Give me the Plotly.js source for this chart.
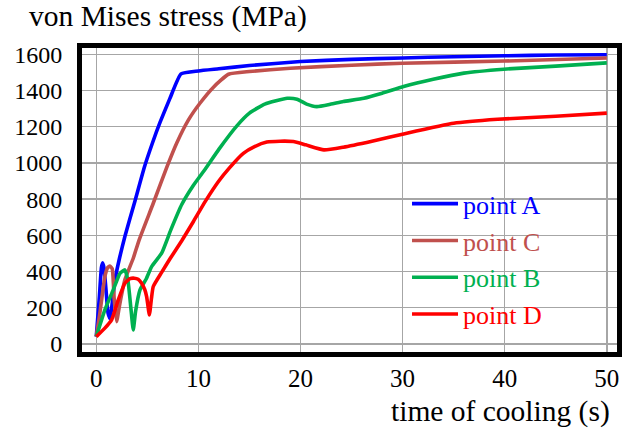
<!DOCTYPE html>
<html>
<head>
<meta charset="utf-8">
<script src="https://cdn.plot.ly/plotly-3.0.1.min.js"></script>
<style>html,body{margin:0;padding:0;background:#fff;}#chart{width:622px;height:430px;}</style>
</head>
<body>
<div id="chart"></div>
<script>
// time of cooling (s) and von Mises stress (MPa)
const tA = [0, 0.3, 0.5, 0.62, 0.75, 0.95, 1.15, 1.35, 1.55, 1.83, 2.3, 2.8, 3.79, 4.7, 5.5, 6.25, 7.2, 8.3, 10, 12, 15, 20, 25, 30, 35, 40, 45, 50];
const vA = [40, 260, 420, 448, 420, 300, 170, 140, 220, 354, 480, 593, 790, 975, 1110, 1225, 1355, 1492, 1508, 1520, 1538, 1560, 1572, 1580, 1587, 1592, 1596, 1598];

const tC = [0, 0.35, 0.84, 1.1, 1.33, 1.56, 1.75, 1.99, 2.3, 2.8, 3.62, 4.2, 5.58, 6.9, 7.88, 9, 10.17, 11.5, 12.95, 15, 19, 25, 30, 40, 50];
const vC = [40, 170, 372, 420, 430, 415, 250, 123, 220, 354, 473, 575, 777, 975, 1110, 1235, 1331, 1420, 1490, 1505, 1523, 1540, 1551, 1563, 1580];

const tB = [0, 0.84, 1.66, 2.32, 2.8, 3.1, 3.4, 3.62, 3.85, 4.28, 4.9, 5.42, 6.4, 7.3, 8.37, 9.5, 10.66, 12, 13.77, 15, 16.5, 18.7, 19.66, 20.6, 21.6, 23, 24.2, 26.2, 28, 30.1, 33, 36, 39.9, 45, 50];
const vB = [40, 188, 298, 390, 409, 350, 190, 77, 180, 298, 360, 427, 501, 630, 770, 875, 965, 1075, 1205, 1275, 1325, 1357, 1352, 1325, 1311, 1325, 1339, 1357, 1385, 1422, 1462, 1496, 1518, 1535, 1553];

const tD = [0, 0.84, 1.5, 2.15, 2.8, 3.3, 3.72, 4.1, 4.44, 4.75, 4.93, 5.2, 5.4, 5.58, 6.4, 7.22, 8.37, 9.5, 10.66, 12, 13, 14.4, 15.5, 16.7, 18, 19.3, 20.5, 22.3, 24.2, 27, 30.1, 35, 39.3, 45, 50];
const vD = [40, 87, 133, 243, 335, 360, 363, 357, 335, 300, 261, 160, 250, 317, 395, 470, 570, 675, 786, 900, 970, 1053, 1090, 1115, 1120, 1118, 1100, 1072, 1087, 1120, 1160, 1219, 1241, 1258, 1275];

const seriesNames = ['point A', 'point C', 'point B', 'point D'];
const seriesColors = ['#0000FF', '#C0504D', '#00B050', '#FF0000'];
const xTicks = [0, 10, 20, 30, 40, 50];
const yTicks = [0, 200, 400, 600, 800, 1000, 1200, 1400, 1600];

const xs = [tA, tC, tB, tD];
const ys = [vA, vC, vB, vD];

const traces = xs.map((x, i) => ({
  x: x, y: ys[i], type: 'scatter', mode: 'lines',
  name: '<span style="color:' + seriesColors[i] + '">' + seriesNames[i] + '</span>',
  line: {color: seriesColors[i], width: 3.6, shape: 'spline', smoothing: 0.45}
}));

const ff = 'Liberation Serif';
const layout = {
  width: 622, height: 430,
  margin: {l: 82, r: 5, t: 48, b: 78},
  paper_bgcolor: '#ffffff', plot_bgcolor: '#ffffff',
  font: {family: ff, size: 24, color: '#000'},
  showlegend: true,
  legend: {x: 0.6075, y: 0.565, xanchor: 'left', yanchor: 'top', bgcolor: 'rgba(0,0,0,0)',
           font: {family: ff, size: 26}, itemwidth: 46, tracegroupgap: 0},
  xaxis: {range: [-1.4, 51], tickvals: xTicks, ticktext: xTicks.map(String),
          showgrid: true, gridcolor: '#A6A6A6', gridwidth: 1.5, zeroline: false,
          showline: true, mirror: true, linecolor: '#000', linewidth: 5, ticks: '',
          tickfont: {family: ff, size: 25, color: '#000'}},
  yaxis: {range: [-45, 1635], tickvals: yTicks, ticktext: yTicks.map(String),
          showgrid: true, gridcolor: '#A6A6A6', gridwidth: 1.5, zeroline: false,
          showline: true, mirror: true, linecolor: '#000', linewidth: 5, ticks: '',
          ticklabelstandoff: 10,
          tickfont: {family: ff, size: 24, color: '#000'}},
  annotations: [
    {text: 'von Mises stress (MPa)', xref: 'paper', yref: 'paper', x: -0.1028, y: 1.102,
     xanchor: 'left', yanchor: 'middle', showarrow: false, font: {family: ff, size: 29.5, color: '#000'}},
    {text: 'time of cooling (s)', xref: 'paper', yref: 'paper', x: 0.9907, y: -0.197,
     xanchor: 'right', yanchor: 'middle', showarrow: false, font: {family: ff, size: 29.5, color: '#000'}}
  ]
};

Plotly.newPlot('chart', traces, layout, {displayModeBar: false, staticPlot: true});
</script>
</body>
</html>
